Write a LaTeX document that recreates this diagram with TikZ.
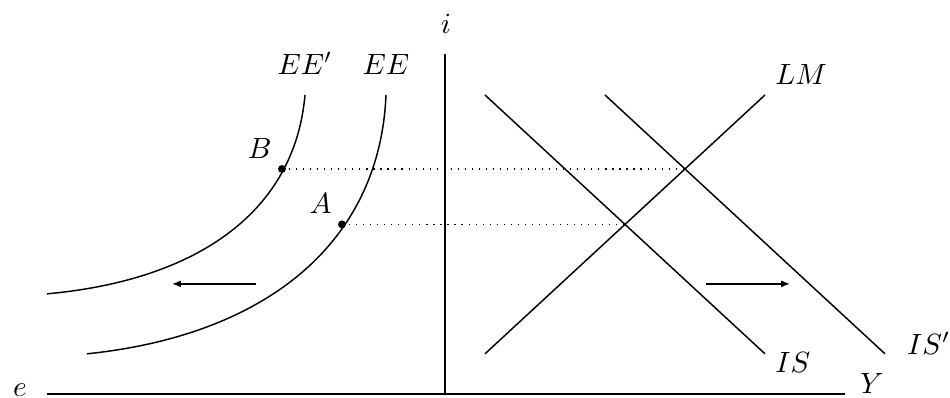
\documentclass[tikz,border=0pt]{standalone}
\usepackage{amsmath}
\usepackage{tikz}
\usetikzlibrary{arrows.meta}

\begin{document}
\begin{tikzpicture}[>={Latex[length=3pt,width=2.4pt]},x=0.48cm,y=0.4437cm,line width=0.5pt]
    \useasboundingbox (-11.125,-0.108) rectangle (12.625,10.65);
    % axes
    \coordinate (O) at (0,0);
    \coordinate (eEnd) at (-9.95,0);
    \coordinate (YEnd) at (10,0);
    \coordinate (iEnd) at (0,9.19);
    \draw (eEnd) -- (YEnd);
    \draw (O) -- (iEnd);
    \node (elab) at (-10.625,0.11) {$e$};
    \node (Ylab) at (10.675,0.27) {$Y$};
    \node (ilab) at (0.025,10.0) {$i$};
    % EE curves
    \draw (-8.95,1.081) .. controls (-4.375,1.595) and (-1.625,4.162) .. (-1.475,8.081)
        node[above=3.5pt] (EElab) {$EE$};
    \draw (-9.95,2.703) .. controls (-6.125,3.081) and (-3.75,4.973) .. (-3.5,8.081)
        node[above=3.5pt] (EEplab) {$EE'$};
    % IS-LM
    \draw (1,1.081) -- (8,8.081) node[above right] (LMlab) {$LM$};
    \draw (1,8.081) -- (8,1.081) node[right,yshift=-3pt] (ISlab) {$IS$};
    \draw (4,8.081) -- (11,1.081) node[right,xshift=4pt,yshift=3.5pt] (ISplab) {$IS'$};
    % equilibria
    \coordinate (A) at (-2.575,4.581);
    \coordinate (B) at (-4.075,6.081);
    \coordinate (EA) at (4.5,4.581);
    \coordinate (EB) at (6,6.081);
    \draw[thin,dotted] (A) -- (EA);
    \draw[thin,dotted] (B) -- (EB);
    \fill (A) circle (1.35pt);
    \fill (B) circle (1.35pt);
    \node[above left] (Alab) at (A) {$A$};
    \node[above left] (Blab) at (B) {$B$};
    % shifts
    \coordinate (lft0) at (-4.725,2.973);
    \coordinate (lft1) at (-6.825,2.973);
    \coordinate (rgt0) at (6.525,2.973);
    \coordinate (rgt1) at (8.625,2.973);
    \draw[->] (lft0) -- (lft1);
    \draw[->] (rgt0) -- (rgt1);
\end{tikzpicture}
\end{document}
